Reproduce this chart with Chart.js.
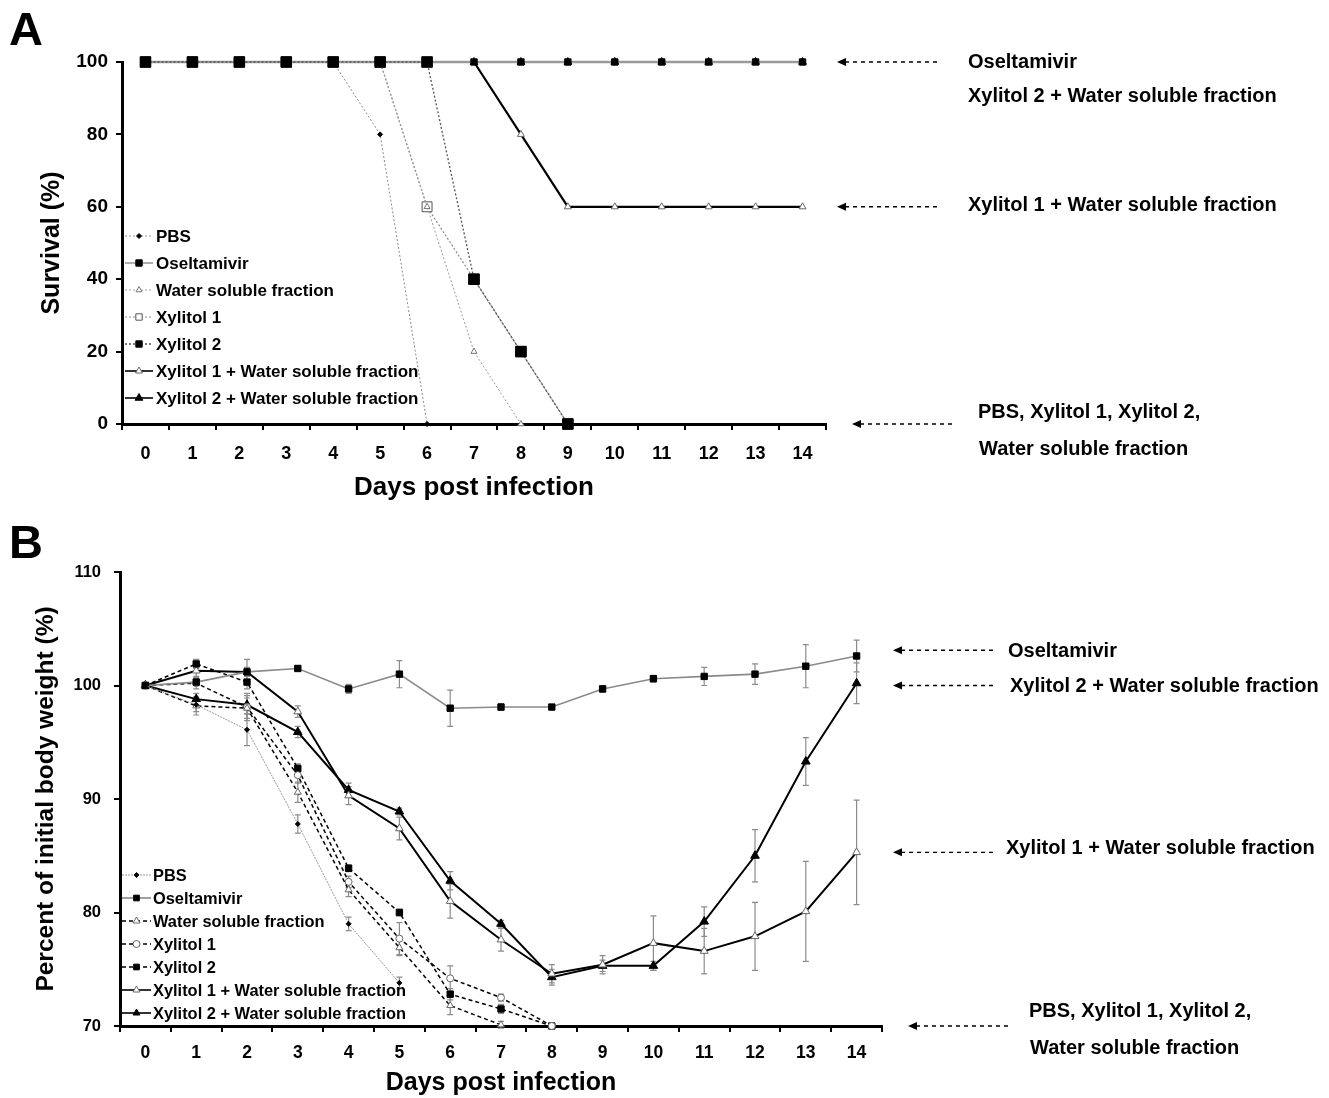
<!DOCTYPE html>
<html>
<head>
<meta charset="utf-8">
<script src="https://cdn.jsdelivr.net/npm/chart.js@4.4.1/dist/chart.umd.min.js"></script>
<style>
  html, body { margin: 0; padding: 0; background: #fff; }
  #wrap { position: relative; width: 1329px; height: 1098px; }
  canvas { position: absolute; left: 0; }
</style>
</head>
<body>
<div id="wrap">
  <canvas id="chartA" width="1329" height="510" style="top:0"></canvas>
  <canvas id="chartB" width="1329" height="588" style="top:510px"></canvas>
</div>
<script>
const FONT = '"Liberation Sans", Arial, sans-serif';

// Shared x categories
const days = ['0', '1', '2', '3', '4', '5', '6', '7', '8', '9', '10', '11', '12', '13', '14'];

// Panel A - survival (%)
const survPBS = [100, 100, 100, 100, 100, 80, 0];
const survOseltamivir = [100, 100, 100, 100, 100, 100, 100, 100, 100, 100, 100, 100, 100, 100, 100];
const survWSF = [100, 100, 100, 100, 100, 100, 60, 20, 0];
const survXylitol1 = [100, 100, 100, 100, 100, 100, 60, 40, 20, 0];
const survXylitol2 = [100, 100, 100, 100, 100, 100, 100, 40, 20, 0];
const survX1WSF = [100, 100, 100, 100, 100, 100, 100, 100, 80, 60, 60, 60, 60, 60, 60];
const survX2WSF = [100, 100, 100, 100, 100, 100, 100, 100, 100, 100, 100, 100, 100, 100, 100];

// Panel B - percent of initial body weight, mean and error
const bwPBS = [100, 98.3, 96.1, 87.8, 79.0, 73.8];
const bwPBSErr = [0, 0.6, 1.4, 0.8, 0.6, 0.5];
const bwOseltamivir = [100, 100.3, 101.2, 101.5, 99.7, 101.0, 98.0, 98.1, 98.1, 99.7, 100.6, 100.8, 101.0, 101.7, 102.6];
const bwOseltamivirErr = [0, 0.3, 0.4, 0.2, 0.4, 1.2, 1.6, 0.3, 0.2, 0.3, 0.3, 0.8, 0.9, 1.9, 1.4];
const bwWSF = [100, 98.2, 98.0, 90.6, 82.0, 76.9, 71.8, 70.1];
const bwWSFErr = [0, 0.8, 0.9, 0.9, 0.6, 0.7, 0.8, 0.3];
const bwXylitol1 = [100, 100.2, 98.1, 92.1, 82.7, 77.7, 74.2, 72.5, 70];
const bwXylitol1Err = [0, 0.5, 1.2, 0.7, 0.5, 1.4, 1.1, 0.3, 0];
const bwXylitol2 = [100, 101.9, 100.3, 92.7, 83.9, 80.0, 72.8, 71.5, 70];
const bwXylitol2Err = [0, 0.4, 0.6, 0.4, 0.3, 0.3, 0.5, 0.4, 0];
const bwX1WSF = [100, 101.3, 101.2, 97.7, 90.3, 87.4, 81.0, 77.6, 74.6, 75.4, 77.3, 76.6, 77.9, 80.1, 85.3];
const bwX1WSFErr = [0, 0.5, 1.1, 0.5, 0.8, 1.0, 1.5, 1.0, 0.8, 0.8, 2.4, 2.0, 3.0, 4.4, 4.6];
const bwX2WSF = [100, 98.8, 98.3, 95.9, 90.8, 88.9, 82.8, 79.0, 74.3, 75.3, 75.3, 79.2, 85.0, 93.3, 100.2];
const bwX2WSFErr = [0, 0.5, 0.8, 0.5, 0.6, 0.3, 0.8, 0.3, 0.7, 0.5, 0.4, 1.3, 2.3, 2.1, 1.8];

function series(label, data, opts) {
  return Object.assign({
    label, data, tension: 0, fill: false, clip: false,
    borderWidth: 1, borderDash: [], pointBorderWidth: 1,
    pointBackgroundColor: '#000', pointBorderColor: '#000'
  }, opts);
}

function drawMarker(ctx, style, x, y, r, fill, stroke) {
  ctx.save();
  ctx.setLineDash([]);
  ctx.lineWidth = 1;
  ctx.fillStyle = fill;
  ctx.strokeStyle = stroke;
  ctx.beginPath();
  if (style === 'rect') {
    const s = r * Math.SQRT1_2;
    ctx.rect(x - s, y - s, 2 * s, 2 * s);
  } else if (style === 'triangle') {
    for (let k = 0; k < 3; k++) {
      const a = k * 2 * Math.PI / 3;
      const px = x + Math.sin(a) * r, py = y - Math.cos(a) * r;
      if (k === 0) ctx.moveTo(px, py); else ctx.lineTo(px, py);
    }
    ctx.closePath();
  } else if (style === 'rectRot') {
    ctx.moveTo(x, y - r); ctx.lineTo(x + r, y); ctx.lineTo(x, y + r); ctx.lineTo(x - r, y);
    ctx.closePath();
  } else {
    ctx.arc(x, y, r, 0, Math.PI * 2);
  }
  ctx.fill();
  ctx.stroke();
  ctx.restore();
}

// error bars, in-plot legend, arrow notes and panel letter
function makeDecor(cfg) {
  return {
    id: 'decor',
    beforeDatasetsDraw(chart) {
      const ctx = chart.ctx, xs = chart.scales.x, ys = chart.scales.y;
      ctx.save();
      ctx.strokeStyle = '#8c8c8c';
      ctx.lineWidth = 1.2;
      chart.data.datasets.forEach((ds) => {
        if (!ds.errors) return;
        ds.data.forEach((v, i) => {
          const e = ds.errors[i];
          if (v == null || !e) return;
          const px = xs.getPixelForValue(i);
          const top = ys.getPixelForValue(v + e), bot = ys.getPixelForValue(v - e);
          ctx.beginPath();
          ctx.moveTo(px, top); ctx.lineTo(px, bot);
          ctx.moveTo(px - 3, top); ctx.lineTo(px + 3, top);
          ctx.moveTo(px - 3, bot); ctx.lineTo(px + 3, bot);
          ctx.stroke();
        });
      });
      ctx.restore();
    },
    afterDraw(chart) {
      const ctx = chart.ctx, area = chart.chartArea, ys = chart.scales.y;
      const L = cfg.legend;
      ctx.save();
      ctx.textBaseline = 'middle';
      ctx.textAlign = 'left';
      ctx.font = 'bold ' + L.size + 'px ' + FONT;
      chart.data.datasets.forEach((ds, i) => {
        const yy = area.top + L.y0 + L.dy * i;
        ctx.strokeStyle = ds.borderColor;
        ctx.lineWidth = Math.min(ds.borderWidth, 1.6);
        ctx.setLineDash(ds.borderDash);
        ctx.beginPath();
        ctx.moveTo(area.left + L.x0, yy);
        ctx.lineTo(area.left + L.x1, yy);
        ctx.stroke();
        drawMarker(ctx, ds.pointStyle, area.left + (L.x0 + L.x1) / 2, yy,
          Math.min(ds.pointRadius, L.maxR), ds.pointBackgroundColor, ds.pointBorderColor);
        ctx.fillStyle = '#000';
        ctx.fillText(ds.label, area.left + L.tx, yy + 1);
      });

      cfg.notes.forEach((n) => {
        const yy = ys.getPixelForValue(n.value);
        const a0 = area.right + n.a0, a1 = area.right + n.a1;
        ctx.fillStyle = '#000';
        ctx.strokeStyle = '#000';
        ctx.lineWidth = 1.4;
        ctx.setLineDash([4, 4]);
        ctx.beginPath();
        ctx.moveTo(a0 + 8, yy); ctx.lineTo(a1, yy);
        ctx.stroke();
        ctx.setLineDash([]);
        ctx.beginPath();
        ctx.moveTo(a0, yy); ctx.lineTo(a0 + 9, yy - 4); ctx.lineTo(a0 + 9, yy + 4);
        ctx.closePath();
        ctx.fill();
        ctx.font = 'bold ' + cfg.noteSize + 'px ' + FONT;
        n.lines.forEach((t) => ctx.fillText(t.text, area.right + t.dx, yy + t.dy));
      });

      ctx.font = 'bold 47px ' + FONT;
      ctx.textBaseline = 'alphabetic';
      ctx.fillText(cfg.tag.text, cfg.tag.x, cfg.tag.y);
      ctx.restore();
    }
  };
}

function axes(o) {
  return {
    x: {
      type: 'category', offset: true,
      grid: { offset: true, drawOnChartArea: false, drawTicks: true, tickLength: 6, color: '#000', lineWidth: 2 },
      border: { display: true, color: '#000', width: 3 },
      ticks: { color: '#000', font: { family: FONT, size: o.xTickSize, weight: 'bold' }, padding: o.xPad, maxRotation: 0, autoSkip: false },
      title: { display: true, text: 'Days post infection', color: '#000', font: { family: FONT, size: o.xTitleSize, weight: 'bold' }, padding: { top: 0, bottom: o.xTitlePad } },
      afterFit: (s) => { s.height = o.xHeight; }
    },
    y: {
      min: o.yMin, max: o.yMax,
      grid: { drawOnChartArea: false, drawTicks: true, tickLength: 6, color: '#000', lineWidth: 2 },
      border: { display: true, color: '#000', width: 3 },
      ticks: { stepSize: o.yStep, color: '#000', font: { family: FONT, size: o.yTickSize, weight: 'bold' }, padding: o.yPad },
      title: { display: true, text: o.yTitle, color: '#000', font: { family: FONT, size: o.yTitleSize, weight: 'bold' }, padding: { top: o.yTitlePad, bottom: 0 } },
      afterFit: (s) => { s.width = o.yWidth; }
    }
  };
}

const baseOptions = {
  responsive: false,
  animation: false,
  events: [],
  plugins: { legend: { display: false }, tooltip: { enabled: false } }
};

// Panel A
new Chart(document.getElementById('chartA'), {
  type: 'line',
  data: {
    labels: days,
    datasets: [
      series('PBS', survPBS, { borderColor: '#8a8a8a', borderDash: [2, 2], pointStyle: 'rectRot', pointRadius: 2.5 }),
      series('Oseltamivir', survOseltamivir, { borderColor: '#9a9a9a', borderWidth: 2.5, pointStyle: 'rect', pointRadius: 4.5 }),
      series('Water soluble fraction', survWSF, { borderColor: '#9a9a9a', borderDash: [2, 2], pointStyle: 'triangle', pointRadius: 3.5, pointBackgroundColor: '#fff', pointBorderColor: '#777' }),
      series('Xylitol 1', survXylitol1, { borderColor: '#8a8a8a', borderWidth: 1.2, borderDash: [2, 2], pointStyle: 'rect', pointRadius: 7, pointBackgroundColor: '#fff', pointBorderColor: '#555' }),
      series('Xylitol 2', survXylitol2, { order: -1, borderColor: '#555', borderWidth: 1.3, borderDash: [2, 2], pointStyle: 'rect', pointRadius: 7.5 }),
      series('Xylitol 1 + Water soluble fraction', survX1WSF, { borderColor: '#000', borderWidth: 2.2, pointStyle: 'triangle', pointRadius: 4, pointBackgroundColor: '#fff', pointBorderColor: '#666' }),
      series('Xylitol 2 + Water soluble fraction', survX2WSF, { borderColor: '#000', borderWidth: 2, pointStyle: 'triangle', pointRadius: 4.5 })
    ]
  },
  options: Object.assign({}, baseOptions, {
    layout: { padding: { left: 0, right: 503, top: 62, bottom: 0 } },
    scales: axes({ xTickSize: 18, xPad: 13, xTitleSize: 26, xTitlePad: 7, xHeight: 86,
      yMin: 0, yMax: 100, yStep: 20, yTickSize: 19, yPad: 8, yTitle: 'Survival (%)', yTitleSize: 25, yTitlePad: 37, yWidth: 122 })
  }),
  plugins: [makeDecor({
    legend: { x0: 3, x1: 31, tx: 34, y0: 174, dy: 27, size: 17, maxR: 4.5 },
    noteSize: 20,
    notes: [
      { value: 100, a0: 11, a1: 112, lines: [{ text: 'Oseltamivir', dx: 142, dy: 0 }, { text: 'Xylitol 2 + Water soluble fraction', dx: 142, dy: 34 }] },
      { value: 60, a0: 11, a1: 112, lines: [{ text: 'Xylitol 1 + Water soluble fraction', dx: 142, dy: -1 }] },
      { value: 0, a0: 26, a1: 126, lines: [{ text: 'PBS, Xylitol 1, Xylitol 2,', dx: 152, dy: -12 }, { text: 'Water soluble fraction', dx: 153, dy: 25 }] }
    ],
    tag: { text: 'A', x: 9, y: 45 }
  })]
});

// Panel B
new Chart(document.getElementById('chartB'), {
  type: 'line',
  data: {
    labels: days,
    datasets: [
      series('PBS', bwPBS, { errors: bwPBSErr, borderColor: '#9a9a9a', borderDash: [2, 1], pointStyle: 'rectRot', pointRadius: 2.5 }),
      series('Oseltamivir', bwOseltamivir, { errors: bwOseltamivirErr, borderColor: '#8a8a8a', borderWidth: 1.6, pointStyle: 'rect', pointRadius: 4.5 }),
      series('Water soluble fraction', bwWSF, { errors: bwWSFErr, borderColor: '#000', borderWidth: 1.5, borderDash: [4, 3], pointStyle: 'triangle', pointRadius: 4, pointBackgroundColor: '#fff', pointBorderColor: '#666' }),
      series('Xylitol 1', bwXylitol1, { errors: bwXylitol1Err, borderColor: '#000', borderWidth: 1.5, borderDash: [4, 3], pointStyle: 'circle', pointRadius: 3.5, pointBackgroundColor: '#fff', pointBorderColor: '#666' }),
      series('Xylitol 2', bwXylitol2, { errors: bwXylitol2Err, borderColor: '#000', borderWidth: 1.5, borderDash: [4, 3], pointStyle: 'rect', pointRadius: 4.5 }),
      series('Xylitol 1 + Water soluble fraction', bwX1WSF, { errors: bwX1WSFErr, borderColor: '#000', borderWidth: 2, pointStyle: 'triangle', pointRadius: 4.5, pointBackgroundColor: '#fff', pointBorderColor: '#666' }),
      series('Xylitol 2 + Water soluble fraction', bwX2WSF, { errors: bwX2WSFErr, borderColor: '#000', borderWidth: 2, pointStyle: 'triangle', pointRadius: 5 })
    ]
  },
  options: Object.assign({}, baseOptions, {
    layout: { padding: { left: 0, right: 447, top: 62, bottom: 0 } },
    scales: axes({ xTickSize: 17.5, xPad: 11, xTitleSize: 25, xTitlePad: 0, xHeight: 72,
      yMin: 70, yMax: 110, yStep: 10, yTickSize: 16.5, yPad: 13, yTitle: 'Percent of initial body weight (%)', yTitleSize: 24.5, yTitlePad: 32, yWidth: 120 })
  }),
  plugins: [makeDecor({
    legend: { x0: 2, x1: 31, tx: 33, y0: 303, dy: 23, size: 16.4, maxR: 4 },
    noteSize: 20,
    notes: [
      { value: 103.1, a0: 11, a1: 111, lines: [{ text: 'Oseltamivir', dx: 126, dy: 1 }] },
      { value: 100, a0: 11, a1: 111, lines: [{ text: 'Xylitol 2 + Water soluble fraction', dx: 128, dy: 1 }] },
      { value: 85.3, a0: 11, a1: 111, lines: [{ text: 'Xylitol 1 + Water soluble fraction', dx: 124, dy: -4 }] },
      { value: 70, a0: 26, a1: 128, lines: [{ text: 'PBS, Xylitol 1, Xylitol 2,', dx: 147, dy: -15 }, { text: 'Water soluble fraction', dx: 148, dy: 22 }] }
    ],
    tag: { text: 'B', x: 9, y: 48 }
  })]
});
</script>
</body>
</html>
